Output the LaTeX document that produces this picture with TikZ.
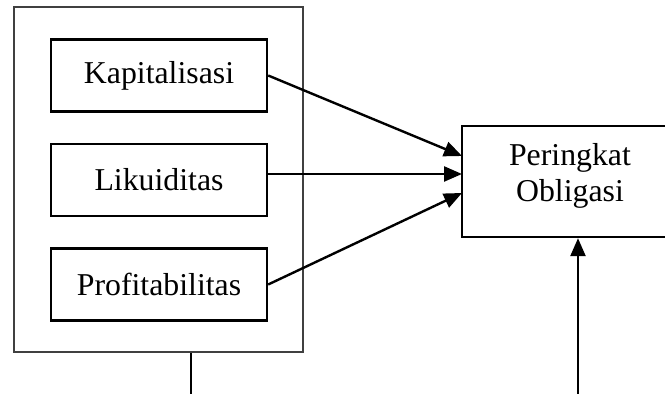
\documentclass[tikz,border=0pt]{standalone}
\usepackage{fontspec}
\setmainfont{Liberation Serif}
\usetikzlibrary{arrows.meta,positioning}

\begin{document}
\begin{tikzpicture}[x=0.5pt,y=-0.5pt,
    font=\fontsize{15.9}{18}\selectfont,
    box/.style={draw,line width=1.2pt,minimum width=108pt,minimum height=36pt,inner sep=0pt},
    arr/.style={line width=1.2pt,-{Triangle[length=9pt,width=7.5pt]}}]
                \useasboundingbox (0,0) rectangle (665,394);
                \node[draw,black!75,line width=0.9pt,minimum width=144.5pt,minimum height=172.5pt] (grp) at (158.5,179.5) {};
                \node[box] (kap) at (159,75.5) {Kapitalisasi};
                \node[box] (liq) at (159,180) {Likuiditas};
                \node[box] (prof) at (159,284.5) {Profitabilitas};
                \node[box,minimum height=55.5pt,align=center,text depth=9pt] (rating) at (570,181.5) {Peringkat\\Obligasi};

                \coordinate (inA) at (462,156);
                \coordinate (inB) at (462,174);
                \coordinate (inC) at (462,193);
                \coordinate (footL) at (191,394);
                \coordinate (footR) at (578,394);

                \draw[arr] (kap.east) to (inA); \draw[arr] (liq.east |- inB) to (inB); \draw[arr] (prof.east) to (inC);
                \draw[line width=0.9pt] (footL |- grp.south) to (footL);
                \draw[arr] (footR) to (footR |- rating.south);
            \end{tikzpicture}
\end{document}
